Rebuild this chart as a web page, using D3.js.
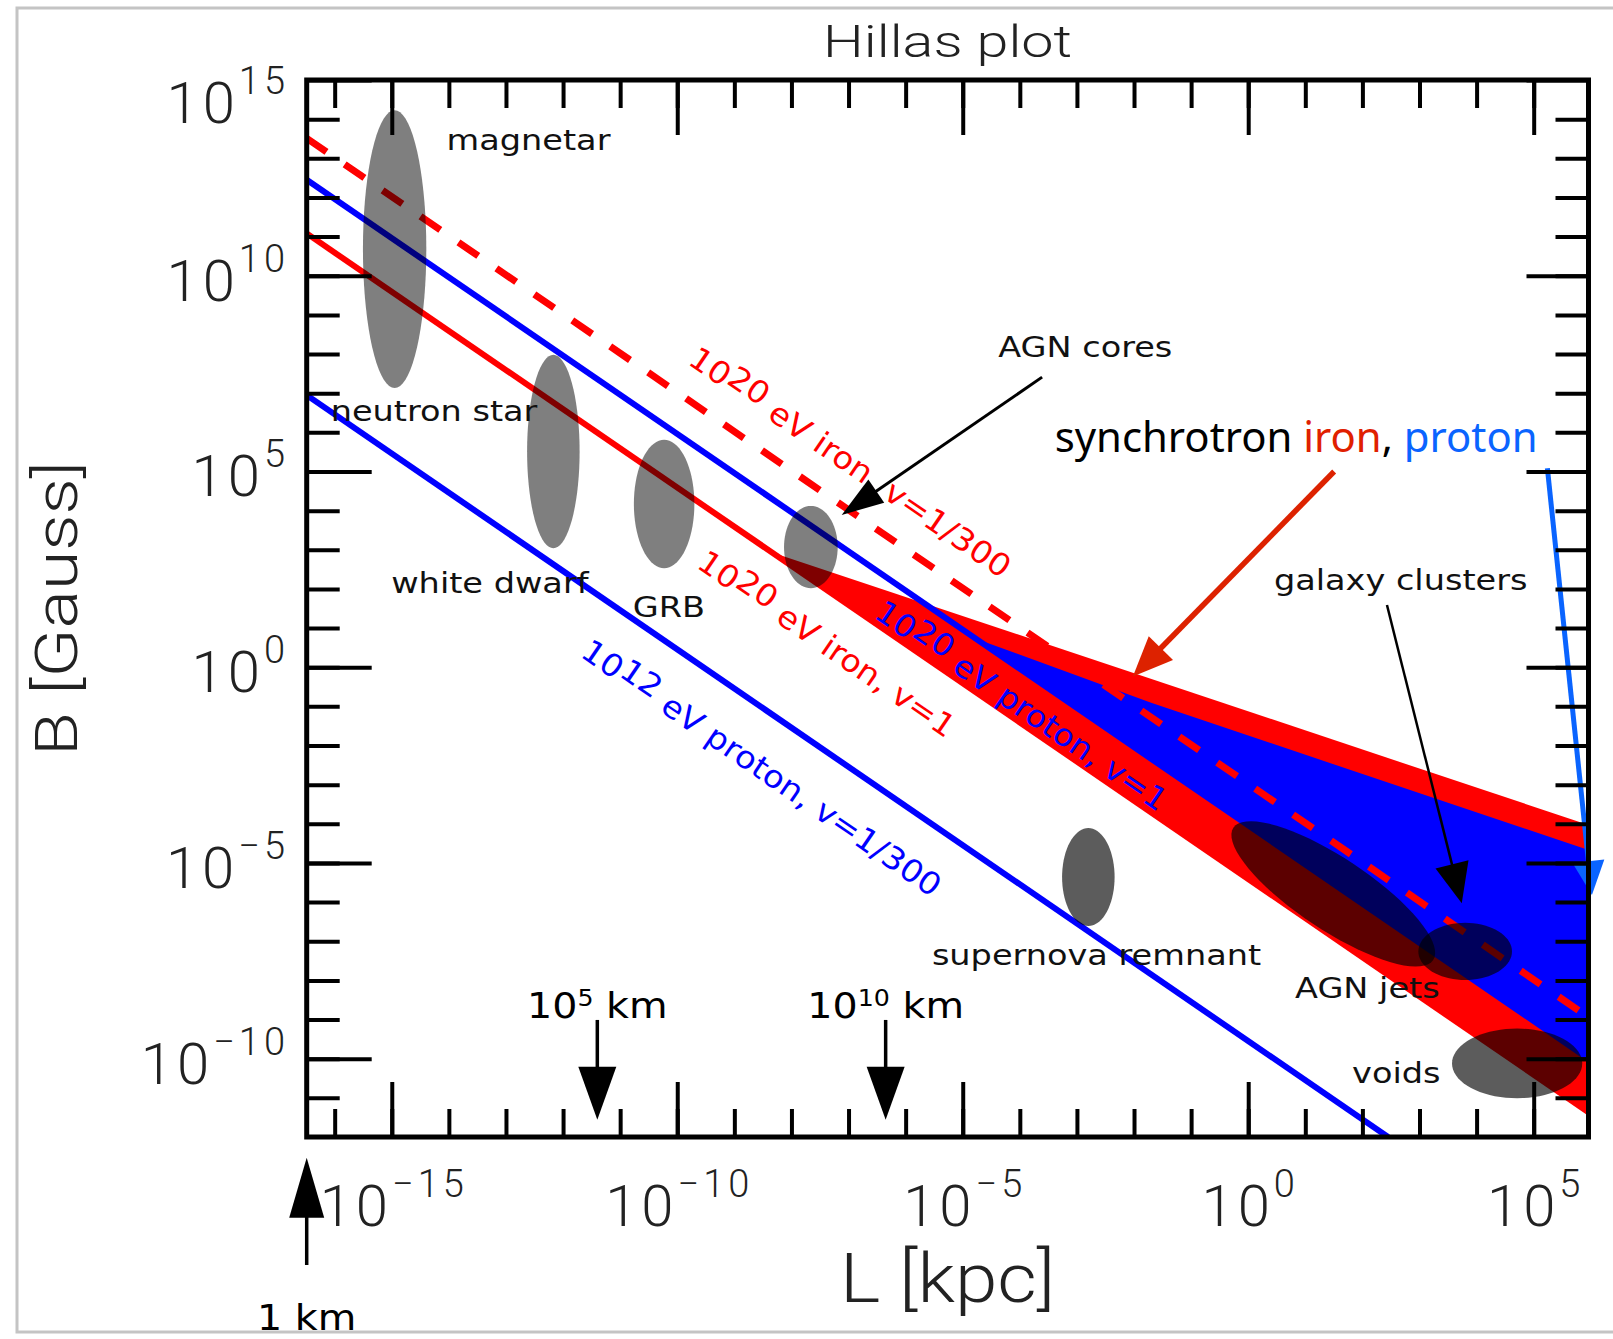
<!DOCTYPE html>
<html>
    <head>
        <meta charset="utf-8">
        <title>Hillas plot</title>
        <script type="text/javascript" src="https://cdn.jsdelivr.net/npm/d3@7"></script>
        <style type="text/css">
            body { margin: 0; background: #fff; }
            .src { font-family: "DejaVu Sans", sans-serif; font-size: 27.5px; fill: #111; }
            .thin { font-family: Roboto, Lato, sans-serif; font-weight: 300; fill: #222; }
            .ticklabel { letter-spacing: 4px; }
            .axis line { stroke: #000; stroke-width: 4px; }
        </style>
    </head>
    <body>
        <script type="text/javascript">
            // log10 of the axis ends: L in kpc (left edge is 1 km), B in Gauss
            var xDomainExp = [-16.49, 5.96];
            var yDomainExp = [-12, 15];

            // labelled decades
            var xTickExp = [-15, -10, -5, 0, 5];
            var yTickExp = [-10, -5, 0, 5, 10, 15];

            // Hillas lines, [log L, log B] at both ends
            var ironSlowLine   = [[-16.49, 13.51], [5.96, -8.94]];   // 1e20 eV iron, v=1/300
            var protonFastLine = [[-16.49, 12.45], [5.96, -10.00]];  // 1e20 eV proton, v=1
            var ironFastLine   = [[-16.49, 11.08], [5.96, -11.37]];  // 1e20 eV iron, v=1
            var protonTeVLine  = [[-16.49, 6.95], [2.45, -12.00]];   // 1e12 eV proton, v=1/300

            // regions allowed once synchrotron losses are counted
            var ironBand   = [[-8.35, 2.94], [5.96, -11.37], [5.96, -4.03]];
            var protonBand = [[-4.77, 0.73], [5.96, -10.00], [5.96, -4.67], [-1.70, -0.91]];

            // source regions: centre and two half-axes, in decades of L and B
            var sourceCentre = [[-14.95, 10.68], [-12.17, 5.51], [-10.23, 4.17], [-7.66, 3.07],
                                [-2.80, -5.36], [1.49, -5.79], [3.80, -7.26], [4.71, -10.12]];
            var sourceAxisU  = [[0.555, 0], [0.46, 0], [0.53, 0], [0.47, 0],
                                [0.46, 0], [1.75, -1.69], [0.82, 0], [1.14, 0]];
            var sourceAxisV  = [[0, 3.55], [0, 2.47], [0, 1.64], [0, 1.05],
                                [0, 1.25], [-0.35, -0.77], [0, 0.73], [0, 0.89]];

            var sourceNames  = ["magnetar", "neutron star", "white dwarf", "GRB", "AGN cores",
                                "supernova remnant", "AGN jets", "galaxy clusters", "voids"];
            var sourceNameAt = [[-14.04, 13.21], [-16.07, 6.29], [-15.01, 1.90], [-10.78, 1.28], [-4.38, 7.92],
                                [-5.54, -7.61], [0.82, -8.45], [0.45, 1.97], [1.82, -10.62]];

            // line captions
            var lineLabelExp  = ["20", "20", "20", "12"];
            var lineLabelRest = [" eV iron, v=1/300", " eV iron, v=1", " eV proton, v=1", " eV proton, v=1/300"];
            var lineLabelAt   = [[-6.97, 5.24], [-7.38, 0.60], [-3.97, -0.98], [-8.52, -2.57]];

            // annotation arrows, from [log L, log B] to [log L, log B]
            var agnCoresArrow   = [[-3.61, 7.41], [-7.12, 3.89]];
            var clusterArrow    = [[2.43, 1.59], [3.74, -6.03]];
            var ironSyncArrow   = [[1.505, 5.00], [-2.02, -0.24]];
            var protonSyncArrow = [[5.24, 5.08], [6.02, -5.82]];
            var synchrotronAt   = [-3.39, 5.51];

            // size marks: 1 km, 1e5 km, 1e10 km expressed in kpc
            var kmMarkExp   = [-16.49, -11.40, -6.35];
            var kmMarkPower = ["", "5", "10"];

            // Width and height
            var w = 1613;
            var h = 1339;
            var plotLeft = 306.7, plotRight = 1588.5, plotTop = 80, plotBottom = 1137;

            var p10 = function(e) { return Math.pow(10, e); };

            var xScale = d3.scaleLog()
                            .domain(xDomainExp.map(p10))
                            .range([plotLeft, plotRight]);

            var yScale = d3.scaleLog()
                            .domain(yDomainExp.map(p10))
                            .range([plotBottom, plotTop]);

            var X = function(e) { return xScale(p10(e)); };
            var Y = function(e) { return yScale(p10(e)); };

            var svg = d3.select("body")
                        .append("svg")
                        .attr("width", w)
                        .attr("height", h);

            // outer frame
            svg.append("rect")
                .attr("x", 17).attr("y", 8)
                .attr("width", w).attr("height", 1324)
                .attr("fill", "none")
                .attr("stroke", "#c4c4c4")
                .attr("stroke-width", 3);

            svg.append("clipPath").attr("id", "plotclip")
                .append("rect")
                .attr("x", plotLeft).attr("y", plotTop)
                .attr("width", plotRight - plotLeft).attr("height", plotBottom - plotTop);

            var plot = svg.append("g").attr("clip-path", "url(#plotclip)");

            var line = d3.line()
                        .x(function(d) { return X(d[0]); })
                        .y(function(d) { return Y(d[1]); });

            // bands
            plot.append("path").attr("d", line(ironBand) + "Z").attr("fill", "#ff0000");
            plot.append("path").attr("d", line(protonBand) + "Z").attr("fill", "#0000ff");

            // Hillas lines
            plot.append("path").attr("d", line(protonTeVLine))
                .attr("stroke", "#0000ff").attr("stroke-width", 6).attr("fill", "none");
            plot.append("path").attr("d", line(ironFastLine))
                .attr("stroke", "#ff0000").attr("stroke-width", 6).attr("fill", "none");
            plot.append("path").attr("d", line(protonFastLine))
                .attr("stroke", "#0000ff").attr("stroke-width", 6).attr("fill", "none");
            plot.append("path").attr("d", line(ironSlowLine))
                .attr("stroke", "#ff0000").attr("stroke-width", 7)
                .attr("stroke-dasharray", "24,22").attr("fill", "none");

            // source ellipses
            var ring = d3.range(0, 72).map(function(i) { return i / 72 * 2 * Math.PI; });
            var loop = d3.line().curve(d3.curveLinearClosed);
            sourceCentre.forEach(function(c, i) {
                var u = sourceAxisU[i], v = sourceAxisV[i];
                var pts = ring.map(function(t) {
                    return [X(c[0] + u[0] * Math.cos(t) + v[0] * Math.sin(t)),
                            Y(c[1] + u[1] * Math.cos(t) + v[1] * Math.sin(t))];
                });
                plot.append("path")
                    .attr("d", loop(pts))
                    .attr("fill", "#000")
                    .attr("fill-opacity", i < 4 ? 0.5 : 0.64);
            });

            // captions along the lines
            var captionLines  = [ironSlowLine, ironFastLine, protonFastLine, protonTeVLine];
            var captionColour = ["#ff0000", "#ff0000", "#0000ff", "#0000ff"];
            var captionLength = [382, 304, 346, 428];
            lineLabelAt.forEach(function(at, i) {
                var l = captionLines[i];
                var ang = Math.atan2(Y(l[1][1]) - Y(l[0][1]), X(l[1][0]) - X(l[0][0])) * 180 / Math.PI;
                var t = svg.append("text")
                    .attr("transform", "translate(" + X(at[0]) + "," + Y(at[1]) + ") rotate(" + ang + ") translate(0,11)")
                    .attr("text-anchor", "middle")
                    .attr("font-family", "DejaVu Sans, sans-serif")
                    .attr("font-size", 31)
                    .attr("fill", captionColour[i])
                    .attr("textLength", captionLength[i])
                    .attr("lengthAdjust", "spacingAndGlyphs");
                t.append("tspan").text("10");
                t.append("tspan").attr("dy", -6).text(lineLabelExp[i]);
                t.append("tspan").attr("dy", 6).text(lineLabelRest[i]);
            });

            // source names
            sourceNames.forEach(function(name, i) {
                svg.append("text")
                    .attr("class", "src")
                    .attr("transform", "translate(" + X(sourceNameAt[i][0]) + "," + Y(sourceNameAt[i][1]) + ") scale(1.22,1)")
                    .text(name);
            });

            // arrows
            function arrow(a, b, width, headLen, headHalf, colour) {
                var x1 = X(a[0]), y1 = Y(a[1]), x2 = X(b[0]), y2 = Y(b[1]);
                var len = Math.hypot(x2 - x1, y2 - y1);
                var ux = (x2 - x1) / len, uy = (y2 - y1) / len;
                var bx = x2 - ux * headLen, by = y2 - uy * headLen;
                svg.append("line")
                    .attr("x1", x1).attr("y1", y1)
                    .attr("x2", bx + ux * 2).attr("y2", by + uy * 2)
                    .attr("stroke", colour).attr("stroke-width", width);
                svg.append("path")
                    .attr("d", "M" + x2 + "," + y2 +
                               "L" + (bx - uy * headHalf) + "," + (by + ux * headHalf) +
                               "L" + (bx + uy * headHalf) + "," + (by - ux * headHalf) + "Z")
                    .attr("fill", colour);
            }

            arrow(agnCoresArrow[0], agnCoresArrow[1], 3, 42, 14, "#000");
            arrow(clusterArrow[0], clusterArrow[1], 2.5, 40, 17, "#000");
            arrow(ironSyncArrow[0], ironSyncArrow[1], 5.5, 40, 17, "#dd2200");
            arrow(protonSyncArrow[0], protonSyncArrow[1], 5, 34, 16, "#0a64ff");

            // synchrotron caption
            var syn = svg.append("text")
                .attr("x", X(synchrotronAt[0]))
                .attr("y", Y(synchrotronAt[1]))
                .attr("font-family", "'Comic Sans MS', 'Noto Sans', sans-serif")
                .attr("font-size", 42)
                .attr("textLength", 483)
                .attr("lengthAdjust", "spacingAndGlyphs");
            syn.append("tspan").attr("fill", "#000").text("synchrotron ");
            syn.append("tspan").attr("fill", "#e02000").text("iron");
            syn.append("tspan").attr("fill", "#000").text(", ");
            syn.append("tspan").attr("fill", "#0a64ff").text("proton");

            // size marks
            kmMarkExp.forEach(function(e, i) {
                var first = i === 0;
                var from = first ? -15.27 : -9.01, to = first ? -12.53 : -11.56;
                arrow([e, from], [e, to], 3.5, first ? 60 : 53, first ? 17.5 : 19, "#000");
                var t = svg.append("text")
                    .attr("transform", "translate(" + X(e) + "," + (first ? 1330 : 1018) + ") scale(1.1,1)")
                    .attr("text-anchor", "middle")
                    .attr("font-family", "DejaVu Sans, sans-serif")
                    .attr("font-size", 36)
                    .attr("fill", "#000");
                if (first) {
                    t.text("1 km");
                } else {
                    t.append("tspan").text("10");
                    t.append("tspan").attr("font-size", 23).attr("dy", -12).text(kmMarkPower[i]);
                    t.append("tspan").attr("dy", 12).text(" km");
                }
            });

            // axes: minor ticks every decade, long ticks every five
            var xMinor = d3.range(-16, 6).map(p10), xMajor = xTickExp.map(p10);
            var yMinor = d3.range(-11, 15).map(p10), yMajor = yTickExp.map(p10);

            function ticks(axis, tx, ty) {
                svg.append("g")
                    .attr("class", "axis")
                    .attr("transform", "translate(" + tx + "," + ty + ")")
                    .call(axis.tickFormat(""))
                    .call(function(g) { g.select(".domain").remove(); });
            }

            ticks(d3.axisLeft(yScale).tickValues(yMinor).tickSize(-33), plotLeft, 0);
            ticks(d3.axisLeft(yScale).tickValues(yMajor).tickSize(-65), plotLeft, 0);
            ticks(d3.axisRight(yScale).tickValues(yMinor).tickSize(-33), plotRight, 0);
            ticks(d3.axisRight(yScale).tickValues(yMajor).tickSize(-62), plotRight, 0);
            ticks(d3.axisTop(xScale).tickValues(xMinor).tickSize(-28), 0, plotTop);
            ticks(d3.axisTop(xScale).tickValues(xMajor).tickSize(-55), 0, plotTop);
            ticks(d3.axisBottom(xScale).tickValues(xMinor).tickSize(-28), 0, plotBottom);
            ticks(d3.axisBottom(xScale).tickValues(xMajor).tickSize(-55), 0, plotBottom);

            svg.append("rect")
                .attr("x", plotLeft).attr("y", plotTop)
                .attr("width", plotRight - plotLeft).attr("height", plotBottom - plotTop)
                .attr("fill", "none").attr("stroke", "#000").attr("stroke-width", 5);

            // tick labels
            function power(t, e) {
                t.append("tspan").attr("font-size", 58).text("10");
                t.append("tspan").attr("font-size", 38).attr("dy", -29)
                    .text(e < 0 ? "\u2212" + (-e) : String(e));
            }

            yTickExp.forEach(function(e) {
                var t = svg.append("text")
                    .attr("class", "thin ticklabel")
                    .attr("x", 289)
                    .attr("y", Math.max(Y(e) + 25, 123))
                    .attr("text-anchor", "end");
                power(t, e);
            });

            xTickExp.forEach(function(e) {
                var t = svg.append("text")
                    .attr("class", "thin ticklabel")
                    .attr("x", X(e) + 2)
                    .attr("y", 1226)
                    .attr("text-anchor", "middle");
                power(t, e);
            });

            // titles
            svg.append("text").attr("class", "thin")
                .attr("x", (plotLeft + plotRight) / 2).attr("y", 57)
                .attr("text-anchor", "middle")
                .attr("font-size", 44)
                .attr("textLength", 249).attr("lengthAdjust", "spacingAndGlyphs")
                .text("Hillas  plot");

            svg.append("text").attr("class", "thin")
                .attr("x", (plotLeft + plotRight) / 2).attr("y", 1302)
                .attr("text-anchor", "middle")
                .attr("font-size", 68)
                .attr("textLength", 215).attr("lengthAdjust", "spacingAndGlyphs")
                .text("L [kpc]");

            svg.append("text").attr("class", "thin")
                .attr("transform", "translate(77," + (plotTop + plotBottom) / 2 + ") rotate(-90)")
                .attr("text-anchor", "middle")
                .attr("font-size", 60)
                .attr("textLength", 295).attr("lengthAdjust", "spacingAndGlyphs")
                .text("B [Gauss]");
        </script>
    </body>
</html>
